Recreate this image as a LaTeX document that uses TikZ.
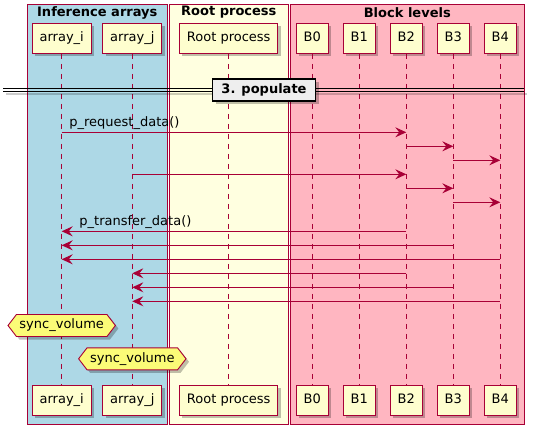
\documentclass[tikz,border=0pt]{standalone}
\usepackage{fontspec}
\setmainfont{DejaVu Sans}
\usetikzlibrary{arrows.meta,positioning,calc,shadows,shapes.symbols}
\definecolor{umlred}{RGB}{168,0,54}
\definecolor{partfill}{RGB}{254,254,206}
\definecolor{hexfill}{RGB}{251,251,119}
\definecolor{grpblue}{RGB}{173,216,230}
\definecolor{grpyellow}{RGB}{255,255,224}
\definecolor{grppink}{RGB}{255,182,193}
\definecolor{sepgray}{RGB}{238,238,238}
\newcommand{\pfont}{\fontsize{13}{15.6}\selectfont}
\tikzset{
  shd/.style={drop shadow={shadow xshift=3pt,shadow yshift=-3pt,fill=black,opacity=0.25}},
  grp/.style={draw=umlred,line width=0.9pt},
  grptitle/.style={font=\pfont\bfseries,inner sep=0pt},
  part/.style={draw=umlred,fill=partfill,line width=1pt,inner xsep=7.5pt,inner ysep=0pt,
               minimum height=30pt,text height=9.5pt,text depth=3pt,shd},
  life/.style={draw=umlred,line width=0.9pt,dash pattern=on 5pt off 5pt},
  msg/.style={draw=umlred,line width=0.9pt,-{Stealth[length=11pt,width=10pt,inset=4pt]}},
  lbl/.style={anchor=base west,inner sep=0pt},
  hexa/.style={signal,signal to=west and east,signal pointer angle=105,draw=umlred,fill=hexfill,
               line width=0.9pt,inner xsep=3pt,inner ysep=0pt,minimum height=22pt,
               text height=9.5pt,text depth=3pt,shd},
  sepbox/.style={draw=black,line width=1.6pt,fill=sepgray,font=\pfont\bfseries,minimum width=103pt,
                 minimum height=22pt,text height=9.5pt,text depth=3pt,shd},
  sepline/.style={draw=black,line width=1pt},
}

\begin{document}
\begin{tikzpicture}[x=1pt,y=-1pt,font=\pfont]
\useasboundingbox (0,0) rectangle (535,434);
% boxes
\draw[grp,fill=grpblue] (27.3,4.3) rectangle (167.3,424.3);
\draw[grp,fill=grpyellow] (169.3,4.3) rectangle (288.3,424.3);
\draw[grp,fill=grppink] (290.7,4.3) rectangle (524,424.3);
\node[grptitle] (tinf) at (97.3,12.5) {Inference arrays};
\node[grptitle] (troot) at (228.8,12.5) {Root process};
\node[grptitle] (tblk) at (407.3,12.5) {Block levels};
% participants, top and bottom
\foreach \n/\x/\t in {ai/61.7/array\_i, aj/132.3/array\_j, root/228.7/Root process,
    b0/312.3/B0, b1/359.3/B1, b2/406.3/B2, b3/453.3/B3, b4/500.3/B4} {
  \node[part] (\n) at (\x,38.3) {\t};
  \node[part] (\n-bot) at (\x,400.3) {\t};
  \draw[life] (\n.south) -- (\n-bot.north);
}
% 3. populate
\draw[line width=2pt,draw=black,opacity=0.2] (6,93.6) -- (527,93.6);
\draw[sepline] (3,88.3) -- (524,88.3);
\draw[sepline] (3,91.3) -- (524,91.3);
\node[sepbox] (populate) at (264,90.2) {3. populate};
% messages
\foreach \f/\t/\y in {ai/b2/132.3, b2/b3/146.3, b3/b4/160.3, aj/b2/174.3, b2/b3/188.3, b3/b4/202.3,
    b2/ai/231.3, b3/ai/245.3, b4/ai/259.3, b2/aj/273.3, b3/aj/287.3, b4/aj/301.3}
  \draw[msg] (\f |- 0,\y) -- (\t |- 0,\y);
\node[lbl] (req) at ($(ai |- 0,126.5)+(7.5,0)$) {p\_request\_data()};
\node[lbl] (trans) at ($(ai |- 0,225.5)+(17.5,0)$) {p\_transfer\_data()};
% sync notes
\node[hexa] (sync1) at (ai |- 0,325.5) {sync\_volume};
\node[hexa] (sync2) at (aj |- 0,358.8) {sync\_volume};
\end{tikzpicture}
\end{document}
